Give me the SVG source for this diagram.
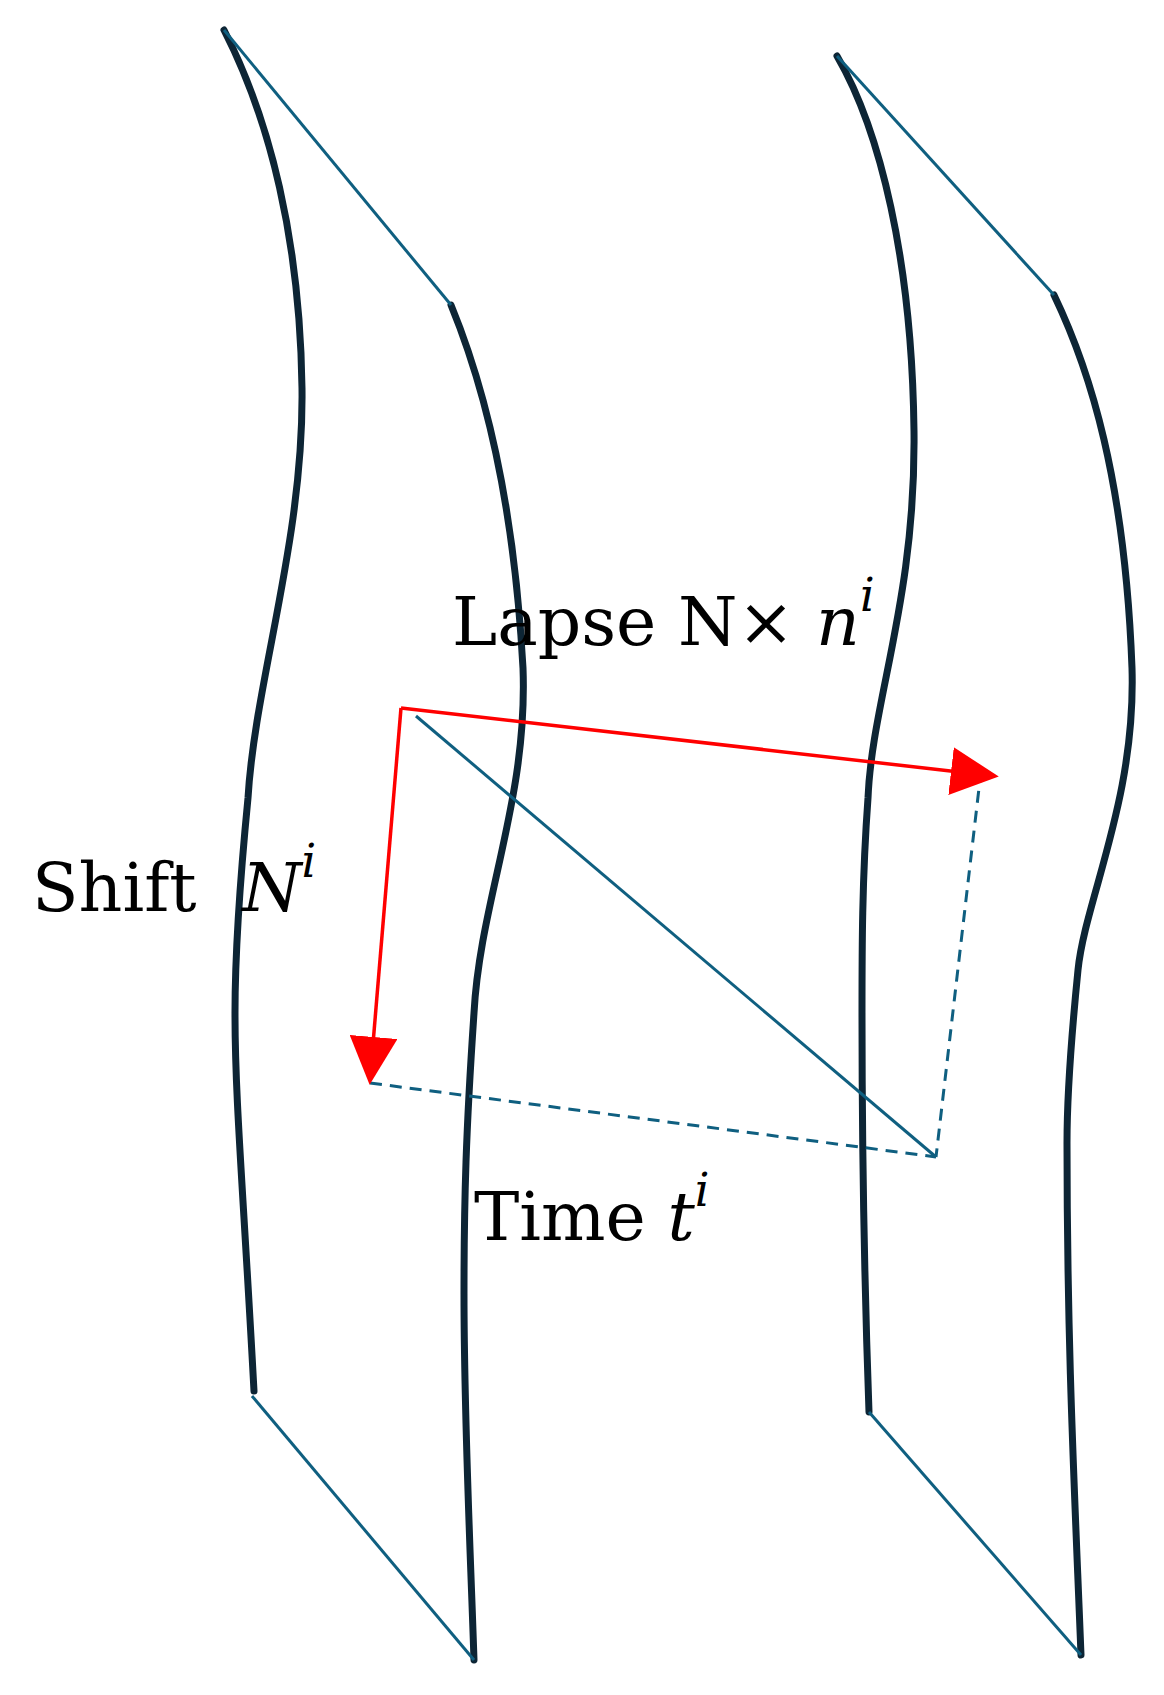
<svg xmlns="http://www.w3.org/2000/svg" width="1164" height="1695" viewBox="0 0 1164 1695">
<style>
.sheet{fill:none;stroke:#0d2535;stroke-width:7;stroke-linecap:round}
.edge{fill:none;stroke:#0f5f80;stroke-width:3}
.dash{fill:none;stroke:#0f5f80;stroke-width:3;stroke-dasharray:12 8}
.red{fill:none;stroke:#ff0000;stroke-width:3.5}
text{font-family:"DejaVu Serif","Liberation Serif",serif;font-size:68px;fill:#000}
</style>
<defs>
<marker id="ahr" viewBox="0 0 10 10" refX="9" refY="5" markerWidth="48" markerHeight="48" markerUnits="userSpaceOnUse" orient="auto">
<path d="M0,0 L10,5 L0,10 z" fill="#ff0000"/>
</marker>
</defs>
<g id="sheet-left">
<path class="sheet" d="M224,30 C270,120 300,240 302,388 C304,540 255,680 248,798 C240,880 235,950 235,1013 C235,1100 243,1186 254,1391"/>
<path class="sheet" d="M451,305 C490,400 515,520 523,668 C528,800 480,900 474,1013 C466,1130 464,1200 464,1294 C464,1420 470,1540 474,1660"/>
<line class="edge" x1="224" y1="30" x2="451" y2="305"/>
<line class="edge" x1="252" y1="1396" x2="474" y2="1660"/>
</g>
<g id="sheet-right">
<path class="sheet" d="M837,56 C880,130 912,260 914,431 C916,600 872,700 868,798 C862,880 862,950 862,1013 C862,1150 865,1300 869,1412"/>
<path class="sheet" d="M1054,295 C1090,370 1125,480 1132,668 C1136,800 1085,900 1078,970 C1070,1050 1067,1100 1067,1143 C1067,1350 1075,1500 1081,1655"/>
<line class="edge" x1="837" y1="56" x2="1054" y2="295"/>
<line class="edge" x1="869" y1="1412" x2="1081" y2="1655"/>
</g>
<g id="connectors">
<line class="edge" x1="416" y1="716" x2="936" y2="1157"/>
<line class="dash" x1="370" y1="1083" x2="936" y2="1157"/>
<line class="dash" x1="981" y1="771" x2="936" y2="1157"/>
<line class="red" x1="401" y1="708" x2="994" y2="776" marker-end="url(#ahr)"/>
<line class="red" x1="401" y1="708" x2="370" y2="1080" marker-end="url(#ahr)"/>
</g>
<g id="labels">
<text x="452" y="645">Lapse N× <tspan font-style="italic">n</tspan><tspan font-style="italic" font-size="46" dy="-34">i</tspan></text>
<text x="32" y="911">Shift <tspan x="242" font-style="italic">N</tspan><tspan font-style="italic" font-size="46" dy="-34">i</tspan></text>
<text x="474" y="1240">Time <tspan font-style="italic">t</tspan><tspan font-style="italic" font-size="46" dy="-34">i</tspan></text>
</g>
</svg>
